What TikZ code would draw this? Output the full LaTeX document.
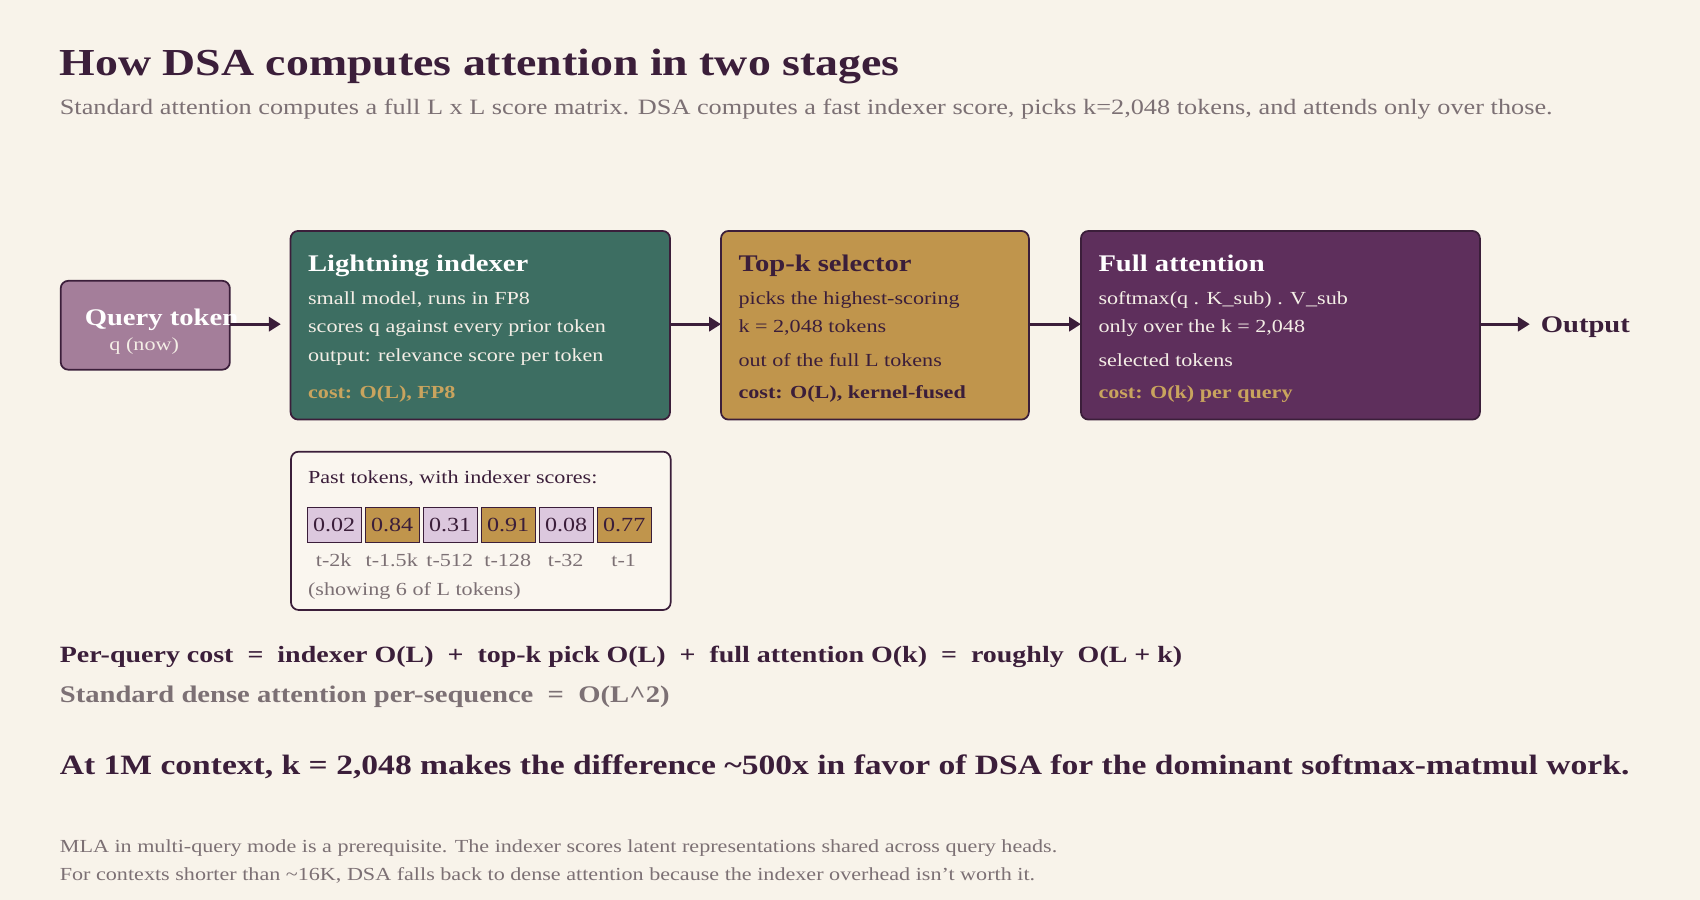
\documentclass[tikz,border=0pt]{standalone}
\usepackage{fontspec}
\setmainfont{Liberation Serif}[FakeStretch=1.2]
\usetikzlibrary{arrows.meta}
\definecolor{bg}{HTML}{F8F3EA}
\definecolor{ink}{HTML}{3B1E3A}
\definecolor{teal}{HTML}{3D6E62}
\definecolor{gold}{HTML}{C0954C}
\definecolor{plum}{HTML}{5E2F5C}
\definecolor{mauve}{HTML}{A47E9A}
\definecolor{lav}{HTML}{DCC8DE}
\definecolor{grayt}{HTML}{7C7074}
\definecolor{goldt}{HTML}{C9A45E}
\definecolor{cream}{HTML}{FAF6EF}
\definecolor{wht}{HTML}{F4EEE6}
\newcommand{\fs}[1]{\fontsize{#1}{#1}\selectfont}
\tikzset{
  box/.style={draw=ink, line width=1.6pt, rounded corners=7pt},
  txt/.style={anchor=base west, inner sep=0pt},
  conn/.style={draw=ink, line width=2.8pt, -{Triangle[length=11pt,width=13pt]}},
  cell/.style={draw=ink, line width=0.9pt, minimum width=49.8pt, minimum height=32.9pt, inner sep=0pt, anchor=north west, text=ink, font=\fs{18.5}},
  lbl/.style={anchor=base, inner sep=0pt, text=grayt, font=\fs{17}},
}
\begin{document}
\begin{tikzpicture}[x=1pt,y=-1pt]
\fill[bg] (0,0) rectangle (1568,830);
\useasboundingbox (0,0) rectangle (1568,830);
% title
\node[txt, text=ink, font=\fs{35.2}\bfseries] (title) at (55,69.2) {How DSA computes attention in two stages};
\node[txt, text=grayt, font=\fs{20.2}] (sub) at (55,106) {Standard attention computes a full L x L score matrix. DSA computes a fast indexer score, picks k=2,048 tokens, and attends only over those.};
% boxes
\path[box, fill=mauve] (56,259) rectangle (212,341) coordinate (qse);
\coordinate (q) at (212,299);
\node[txt, text=white, font=\fs{22}\bfseries] (qt) at (78,299.8) {Query token};
\node[anchor=base, inner sep=0pt, text=wht, font=\fs{17}] (qn) at (133,323) {q (now)};

\path[box, fill=teal] (268,213) rectangle (618,387);
\coordinate (iw) at (259,299);
\coordinate (ie) at (618,299);
\node[txt, text=white, font=\fs{22}\bfseries] (it) at (284,250.6) {Lightning indexer};
\node[txt, text=wht, font=\fs{17}] (i1) at (284,281) {small model, runs in FP8};
\node[txt, text=wht, font=\fs{17}] (i2) at (284,307) {scores q against every prior token};
\node[txt, text=wht, font=\fs{17}] (i3) at (284,333.6) {output: relevance score per token};
\node[txt, text=goldt, font=\fs{17}\bfseries] (i4) at (284,368) {cost: O(L), FP8};

\path[box, fill=gold] (665,213) rectangle (949,387);
\coordinate (tw) at (665,299);
\coordinate (te) at (949,299);
\node[txt, text=ink, font=\fs{22}\bfseries] (tt) at (681,250.6) {Top-k selector};
\node[txt, text=ink, font=\fs{17}] (t1) at (681,281) {picks the highest-scoring};
\node[txt, text=ink, font=\fs{17}] (t2) at (681,307) {k = 2,048 tokens};
\node[txt, text=ink, font=\fs{17}] (t3) at (681,338) {out of the full L tokens};
\node[txt, text=ink, font=\fs{17}\bfseries] (t4) at (681,368) {cost: O(L), kernel-fused};

\path[box, fill=plum] (997,213) rectangle (1365,387);
\coordinate (fw) at (997,299);
\coordinate (fe) at (1365,299);
\node[txt, text=white, font=\fs{22}\bfseries] (ft) at (1013,250.6) {Full attention};
\node[txt, text=wht, font=\fs{17}] (f1) at (1013,281) {softmax(q . K\_sub) . V\_sub};
\node[txt, text=wht, font=\fs{17}] (f2) at (1013,307) {only over the k = 2,048};
\node[txt, text=wht, font=\fs{17}] (f3) at (1013,338) {selected tokens};
\node[txt, text=goldt, font=\fs{17}\bfseries] (f4) at (1013,368) {cost: O(k) per query};

\node[txt, text=ink, font=\fs{22}\bfseries] (out) at (1421,307) {Output};
\coordinate (ow) at (1411,299);

\draw[conn] (q) -- (iw);
\draw[conn] (ie) -- (tw);
\draw[conn] (te) -- (fw);
\draw[conn] (fe) -- (ow);

% past tokens
\path[box, fill=cream] (268.4,416.6) rectangle (618.6,562.6);
\node[txt, text=ink, font=\fs{17}] (pt) at (284,445.8) {Past tokens, with indexer scores:};
\node[cell, fill=lav]  (c1) at (282.9,467.3) {0.02};
\node[cell, fill=gold] (c2) at (336.4,467.3) {0.84};
\node[cell, fill=lav]  (c3) at (389.9,467.3) {0.31};
\node[cell, fill=gold] (c4) at (443.4,467.3) {0.91};
\node[cell, fill=lav]  (c5) at (496.9,467.3) {0.08};
\node[cell, fill=gold] (c6) at (550.4,467.3) {0.77};
\node[lbl] (l1) at (307.8,522.7) {t-2k};
\node[lbl] (l2) at (361.3,522.7) {t-1.5k};
\node[lbl] (l3) at (414.8,522.7) {t-512};
\node[lbl] (l4) at (468.3,522.7) {t-128};
\node[lbl] (l5) at (521.8,522.7) {t-32};
\node[lbl] (l6) at (575.3,522.7) {t-1};
\node[txt, text=grayt, font=\fs{17}] (sh) at (284,549.7) {(showing 6 of L tokens)};

% bottom
\node[txt, text=ink, font=\fs{21.5}\bfseries] (pq) at (55,611.2) {Per-query cost \ = \ indexer O(L) \ + \ top-k pick O(L) \ + \ full attention O(k) \ = \ roughly \ O(L + k)};
\node[txt, text=grayt, font=\fs{22}\bfseries] (sd) at (55,648) {Standard dense attention per-sequence \ = \ O(L\^{}2)};
\node[txt, text=ink, font=\fs{25.8}\bfseries] (big) at (55,714.8) {At 1M context, k = 2,048 makes the difference \textasciitilde500x in favor of DSA for the dominant softmax-matmul work.};
\node[txt, text=grayt, font=\fs{17}] (n1) at (55,786) {MLA in multi-query mode is a prerequisite. The indexer scores latent representations shared across query heads.};
\node[txt, text=grayt, font=\fs{17}] (n2) at (55,811.7) {For contexts shorter than \textasciitilde16K, DSA falls back to dense attention because the indexer overhead isn't worth it.};
\end{tikzpicture}
\end{document}
